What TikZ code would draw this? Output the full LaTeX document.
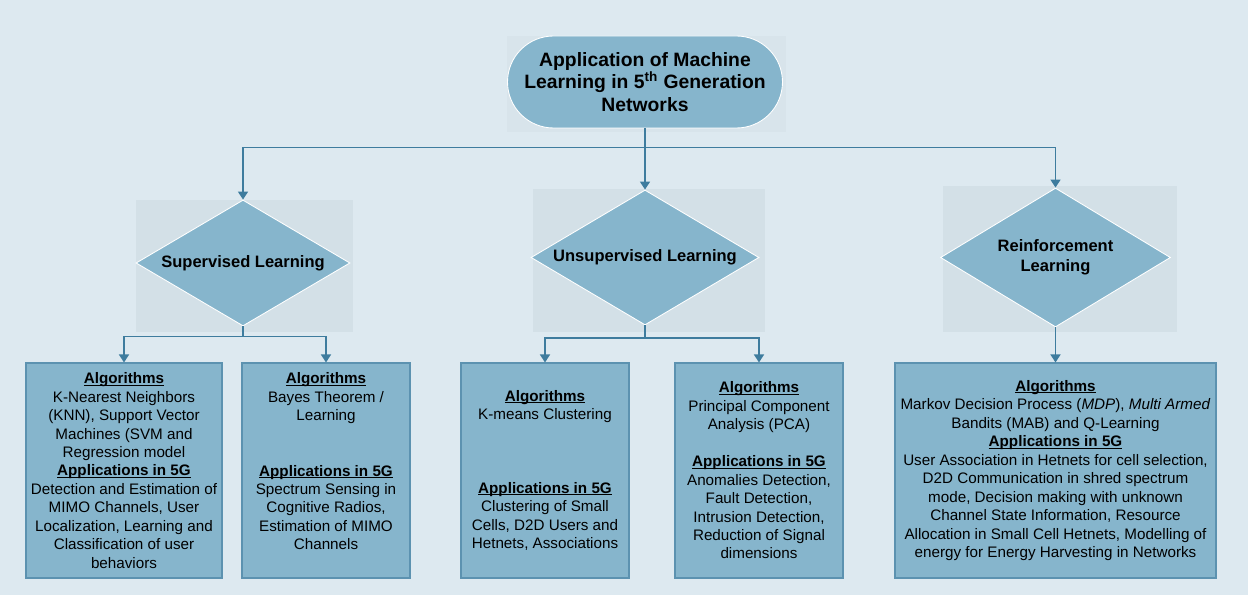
\documentclass[tikz,border=0pt]{standalone}
\usepackage{fontspec}
\setmainfont{Liberation Sans}
\usepackage{xcolor}
\usetikzlibrary{shapes.geometric,arrows.meta}

\definecolor{bgblue}{RGB}{221,233,240}
\definecolor{panelblue}{RGB}{211,224,231}
\definecolor{paleblue}{RGB}{216,228,235}
\definecolor{boxblue}{RGB}{134,181,204}
\definecolor{edgeblue}{RGB}{92,146,176}
\definecolor{lineblue}{RGB}{62,124,158}

% bold heading, underlined just below the baseline
\newcommand{\hdr}[1]{\setbox0\hbox{\textbf{#1}}\rlap{\rule[-0.13em]{\wd0}{0.07em}}\box0}

\begin{document}
\begin{tikzpicture}[
  algobox/.style={draw=edgeblue, line width=0.6pt, fill=boxblue, minimum height=4.3cm, inner sep=0pt, align=center, font=\fontsize{8.66}{10.5}\selectfont},
  decision/.style={diamond, aspect=1.7, draw=white, line width=0.5pt, fill=boxblue, inner sep=0pt, align=center, font=\fontsize{9.4}{11.3}\selectfont\bfseries},
  link/.style={draw=lineblue, line width=0.85pt, -{Triangle[width=0.2cm,length=0.16cm]}},
  panel/.style={fill=panelblue}
]
\useasboundingbox (0,0) rectangle (24.96,-11.9);
\fill[bgblue] (0,0) rectangle (24.96,-11.9);

% light panels behind the top shapes
\fill[paleblue] (10.14,-0.72) rectangle (15.72,-2.64);
\fill[panel] (2.72,-4.0) rectangle (7.06,-6.64);
\fill[panel] (10.66,-3.78) rectangle (15.3,-6.64);
\fill[panel] (18.86,-3.72) rectangle (23.54,-6.64);

\node[draw=white, line width=0.5pt, fill=boxblue, rounded corners=0.92cm, minimum width=5.5cm, minimum height=1.84cm, align=center, font=\fontsize{11}{13}\selectfont\bfseries] (title) at (12.9,-1.64) {Application of Machine\\ Learning in 5\textsuperscript{th} Generation\\ Networks};

\node[decision, minimum width=4.28cm, minimum height=2.52cm] (sup) at (4.86,-5.26) {Supervised Learning};
\node[decision, minimum width=4.56cm, minimum height=2.7cm] (unsup) at (12.9,-5.15) {Unsupervised Learning};
\node[decision, minimum width=4.6cm, minimum height=2.78cm] (reinf) at (21.11,-5.15) {Reinforcement\\ Learning};

\node[algobox, minimum width=3.92cm] (knn) at (2.48,-9.41) {\hdr{Algorithms}\\ K-Nearest Neighbors\\ (KNN), Support Vector\\ Machines (SVM and\\ Regression model\\ \hdr{Applications in 5G}\\ Detection and Estimation of\\ MIMO Channels, User\\ Localization, Learning and\\ Classification of user\\ behaviors};
\node[algobox, minimum width=3.36cm] (bayes) at (6.52,-9.41) {\hdr{Algorithms}\\ Bayes Theorem /\\ Learning\\ \mbox{}\\ \mbox{}\\ \hdr{Applications in 5G}\\ Spectrum Sensing in\\ Cognitive Radios,\\ Estimation of MIMO\\ Channels\\ \mbox{}};
\node[algobox, minimum width=3.36cm] (kmeans) at (10.9,-9.41) {\hdr{Algorithms}\\ K-means Clustering\\ \mbox{}\\ \mbox{}\\ \mbox{}\\ \hdr{Applications in 5G}\\ Clustering of Small\\ Cells, D2D Users and\\ Hetnets, Associations};
\node[algobox, minimum width=3.36cm] (pca) at (15.18,-9.41) {\hdr{Algorithms}\\ Principal Component\\ Analysis (PCA)\\ \mbox{}\\ \hdr{Applications in 5G}\\ Anomalies Detection,\\ Fault Detection,\\ Intrusion Detection,\\ Reduction of Signal\\ dimensions};
\node[algobox, minimum width=6.42cm] (mdp) at (21.11,-9.41) {\hdr{Algorithms}\\ Markov Decision Process (\textit{MDP}), \textit{Multi Armed}\\ Bandits (MAB) and Q-Learning\\ \hdr{Applications in 5G}\\ User Association in Hetnets for cell selection,\\ D2D Communication in shred spectrum\\ mode, Decision making with unknown\\ Channel State Information, Resource\\ Allocation in Small Cell Hetnets, Modelling of\\ energy for Energy Harvesting in Networks};

\draw[link] (title.south) -- ++(0,-0.38) -| (sup.north);
\draw[link] (title.south) -- (unsup.north);
\draw[link] (title.south) -- ++(0,-0.38) -| (reinf.north);

\draw[link] (sup.south) -- ++(0,-0.2) -| (knn.north);
\draw[link] (sup.south) -- ++(0,-0.2) -| (bayes.north);
\draw[link] (unsup.south) -- ++(0,-0.25) -| (kmeans.north);
\draw[link] (unsup.south) -- ++(0,-0.25) -| (pca.north);
\draw[link] (reinf.south) -- (mdp.north);
\end{tikzpicture}
\end{document}
